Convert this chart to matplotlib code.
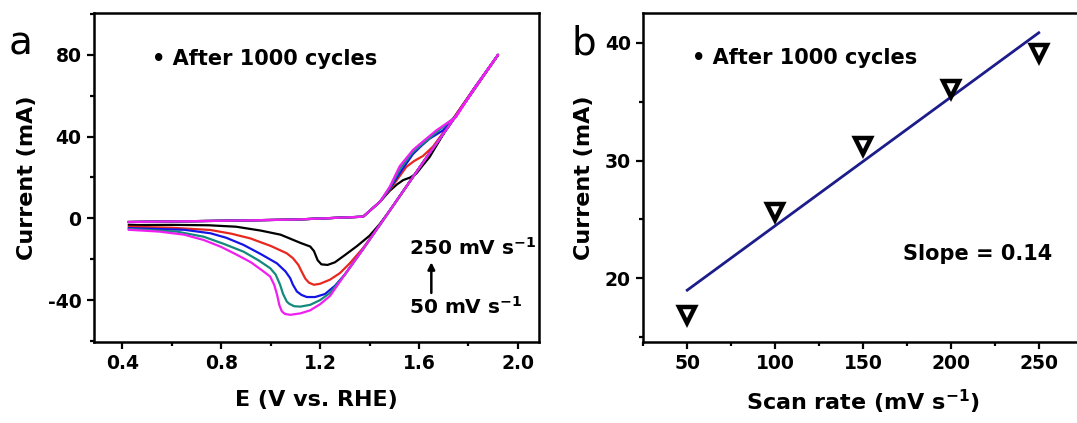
import matplotlib
matplotlib.use("Agg")
import matplotlib.pyplot as plt
from matplotlib.ticker import MultipleLocator

plt.rcParams['font.family'] = 'DejaVu Sans'
plt.rcParams['font.weight'] = 'bold'
plt.rcParams['axes.labelweight'] = 'bold'
plt.rcParams['mathtext.default'] = 'bf'
plt.rcParams['axes.unicode_minus'] = False

# ---- panel a: CV curves (50 -> 250 mV/s) ----
cv_colors = ['black', '#e8281e', '#1414e6', '#138a7c', '#f01ef0']

# forward scans, common start then per-curve shoulder
fwd_E_base = [0.426, 0.8, 1.1, 1.374, 1.442]
fwd_I_base = [-1.8, -1.2, -0.6, 0.8, 8.1]

fwd_E = [
    [1.482, 1.51, 1.536, 1.565, 1.59, 1.616, 1.643, 1.72, 1.82, 1.92],
    [1.482, 1.515, 1.549, 1.58, 1.616, 1.656, 1.72, 1.82, 1.92],
    [1.482, 1.53, 1.576, 1.61, 1.643, 1.697, 1.75, 1.82, 1.92],
    [1.482, 1.525, 1.576, 1.62, 1.67, 1.75, 1.82, 1.92],
    [1.482, 1.522, 1.576, 1.62, 1.67, 1.75, 1.82, 1.92],
]
fwd_I = [
    [13.5, 16.5, 18.7, 20, 22, 26, 30, 45.5, 63, 80],
    [14, 19.5, 25.2, 28, 30.5, 35, 45.5, 63, 80],
    [14.5, 23.5, 31.5, 35.5, 39, 43, 50, 63, 80],
    [15, 24.5, 32.5, 37, 42, 50, 63, 80],
    [15.5, 25.5, 33.5, 38, 43, 49.6, 63, 80],
]

# backward scans, common straight part then per-curve reduction peak
bwd_E_top = [1.92, 1.82, 1.72, 1.62, 1.54, 1.48]
bwd_I_top = [80, 62.5, 45, 28, 14, 3.5]

bwd_E = [
    [1.44, 1.40, 1.35, 1.30, 1.26, 1.23, 1.205, 1.19, 1.175, 1.16, 1.12,
     1.04, 0.96, 0.86, 0.75, 0.6, 0.426],
    [1.44, 1.374, 1.32, 1.28, 1.24, 1.2, 1.175, 1.155, 1.14, 1.125, 1.112,
     1.09, 1.065, 1.0, 0.917, 0.84, 0.756, 0.6, 0.426],
    [1.44, 1.374, 1.30, 1.26, 1.22, 1.18, 1.146, 1.125, 1.106, 1.09, 1.079,
     1.06, 1.025, 0.96, 0.89, 0.82, 0.756, 0.65, 0.426],
    [1.44, 1.374, 1.30, 1.24, 1.2, 1.16, 1.12, 1.095, 1.075, 1.065, 1.05,
     1.038, 1.02, 0.998, 0.95, 0.89, 0.81, 0.729, 0.62, 0.426],
    [1.44, 1.374, 1.30, 1.24, 1.2, 1.16, 1.12, 1.08, 1.058, 1.045, 1.035,
     1.025, 1.014, 0.998, 0.971, 0.92, 0.864, 0.8, 0.729, 0.65, 0.55, 0.426],
]
bwd_I = [
    [-3, -8.5, -13.5, -18, -21.5, -22.8, -22.5, -20.5, -16, -13.8, -12,
     -8, -6, -4.1, -3.4, -3.2, -3.3],
    [-3.5, -14.5, -22, -26.8, -30, -32, -32.5, -31.5, -29.5, -26, -22.8,
     -19.5, -17.1, -13.5, -9.8, -7.5, -5.7, -4.6, -4.1],
    [-3.5, -15, -27.5, -33, -37, -38.5, -38.5, -37.5, -35.8, -32.5, -29.3,
     -26, -22, -17.5, -13, -9.5, -7.3, -5.6, -4.8],
    [-3.5, -15, -27.5, -36.5, -40, -42.3, -43.2, -43, -41.8, -40.7, -37,
     -32.5, -27.5, -24.4, -20.5, -16.3, -12.5, -9, -6.5, -5.2],
    [-3.5, -15, -27.5, -38, -42, -45, -46.5, -47.2, -46.8, -45.5, -42.5,
     -37, -32.5, -28.5, -26, -21.5, -17.9, -14, -10.6, -8, -6.5, -5.6],
]

# ---- panel b: peak current vs scan rate ----
scan_rate = [50, 100, 150, 200, 250]
peak_current = [16.9, 25.65, 31.2, 36.1, 39.1]
fit_rate = [50, 250]
fit_current = [19.0, 40.85]

fig = plt.figure(figsize=(10.77, 4.23), dpi=100)
ax1 = fig.add_axes([0.0873, 0.1915, 0.413, 0.777])
ax2 = fig.add_axes([0.5973, 0.1915, 0.408, 0.777])

for i, c in enumerate(cv_colors):
    E = fwd_E_base + fwd_E[i] + bwd_E_top + bwd_E[i]
    I = fwd_I_base + fwd_I[i] + bwd_I_top + bwd_I[i]
    ax1.plot(E, I, color=c, lw=1.6, zorder=2 + i * 0.1,
             solid_joinstyle='round')

ax1.set_xlim(0.285, 2.085)
ax1.set_ylim(-60.5, 100.3)
ax1.xaxis.set_major_locator(MultipleLocator(0.4))
ax1.xaxis.set_minor_locator(MultipleLocator(0.2))
ax1.yaxis.set_major_locator(MultipleLocator(40))
ax1.yaxis.set_minor_locator(MultipleLocator(20))
ax1.set_xticks([0.4, 0.8, 1.2, 1.6, 2.0])
ax1.set_xticklabels(['0.4', '0.8', '1.2', '1.6', '2.0'])
ax1.set_xlabel('E (V vs. RHE)', fontsize=16, labelpad=12)
ax1.set_ylabel('Current (mA)', fontsize=16, labelpad=8)
ax1.text(0.52, 78, '\u2022 After 1000 cycles', fontsize=15, va='center')
ax1.text(1.56, -17.9, r'250 mV s$^{-1}$', fontsize=14.5, va='baseline')
ax1.text(1.56, -46.7, r'50 mV s$^{-1}$', fontsize=14.5, va='baseline')
ax1.annotate('', xy=(1.65, -21.5), xytext=(1.65, -36.5),
             arrowprops=dict(arrowstyle='-|>', color='black', lw=1.8,
                             mutation_scale=10, shrinkA=0, shrinkB=0))

ax2.plot(fit_rate, fit_current, color='#1c1c8a', lw=2.0, zorder=2)
ax2.plot(scan_rate, peak_current, ls='none', marker='v', ms=12,
         mfc='white', mec='black', mew=3.2, zorder=3)
ax2.set_xlim(25, 275)
ax2.set_ylim(14.6, 42.5)
ax2.xaxis.set_major_locator(MultipleLocator(50))
ax2.xaxis.set_minor_locator(MultipleLocator(25))
ax2.yaxis.set_major_locator(MultipleLocator(10))
ax2.yaxis.set_minor_locator(MultipleLocator(5))
ax2.set_xlabel(r'Scan rate (mV s$^{-1}$)', fontsize=16, labelpad=10)
ax2.set_ylabel('Current (mA)', fontsize=16, labelpad=8)
ax2.text(52.5, 38.7, '\u2022 After 1000 cycles', fontsize=15, va='center')
ax2.text(172.7, 21.55, 'Slope = 0.14', fontsize=15, va='baseline')

for ax in (ax1, ax2):
    for s in ax.spines.values():
        s.set_linewidth(1.8)
    ax.tick_params(which='major', direction='out', length=5, width=1.6,
                   labelsize=13.5, pad=4)
    ax.tick_params(which='minor', direction='out', length=3, width=1.6)
    ax.tick_params(top=False, right=False, which='both')

fig.text(0.008, 0.87, 'a', fontsize=28, fontweight='normal')
fig.text(0.531, 0.87, 'b', fontsize=28, fontweight='normal')

fig.savefig('out.png', dpi=100)
